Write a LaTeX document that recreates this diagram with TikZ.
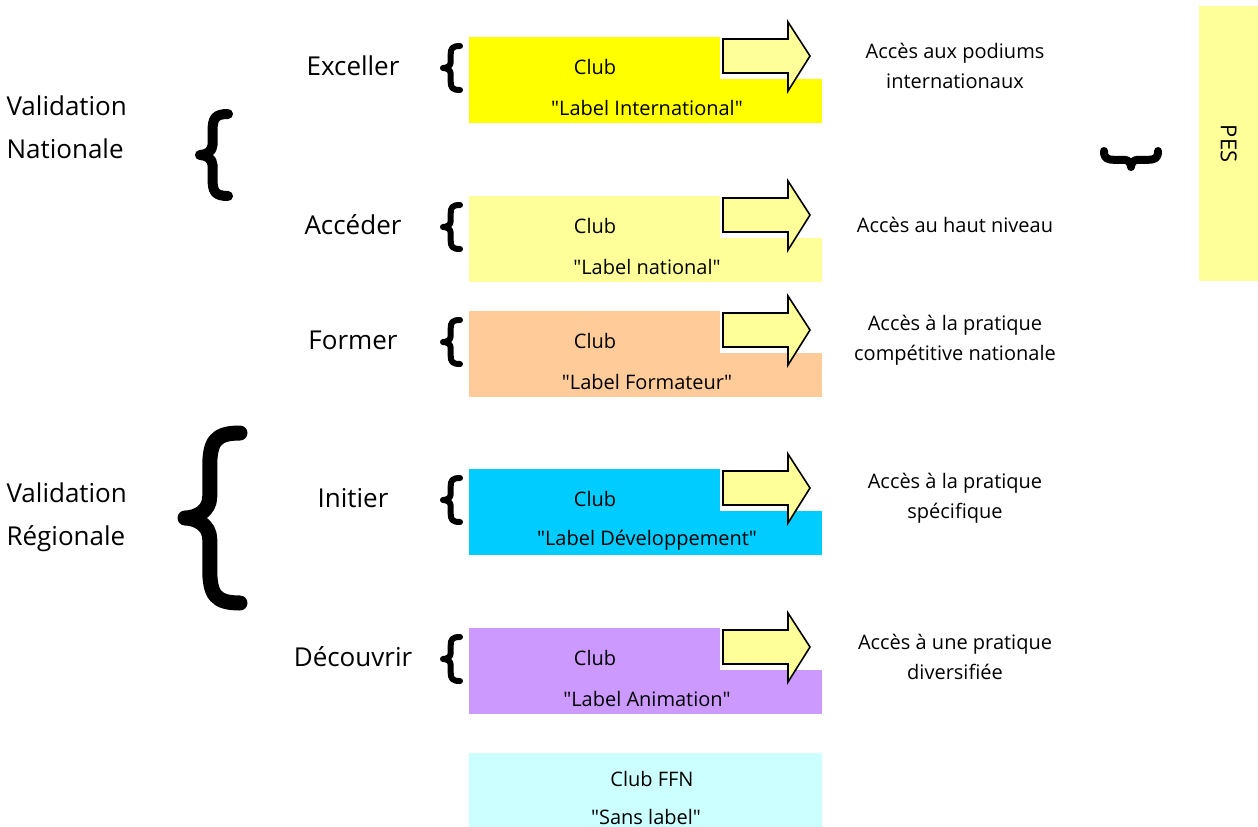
\documentclass[tikz,border=0pt]{standalone}
\usepackage{fontspec}
\setmainfont{Open Sans}
\usetikzlibrary{positioning}

\definecolor{intl}{HTML}{FFFF00}
\definecolor{natl}{HTML}{FFFF99}
\definecolor{form}{HTML}{FFCC99}
\definecolor{dev}{HTML}{00CCFF}
\definecolor{anim}{HTML}{CC99FF}
\definecolor{ffn}{HTML}{CCFFFF}

\tikzset{
  curly/.pic={
    \draw[line cap=round, line join=round]
      (1,-1) .. controls (0.55,-1) and (0.45,-0.9) .. (0.45,-0.6)
      -- (0.45,-0.25) .. controls (0.45,-0.08) and (0.2,0) .. (0,0)
      .. controls (0.2,0) and (0.45,0.08) .. (0.45,0.25)
      -- (0.45,0.6) .. controls (0.45,0.9) and (0.55,1) .. (1,1);
  },
  labelbox/.style={fill=#1, draw=none, minimum width=353, minimum height=86,
    anchor=north west, inner sep=0},
  bigtxt/.style={font=\fontsize{26}{43}\selectfont},
  midtxt/.style={font=\fontsize{20}{30}\selectfont},
  acctxt/.style={font=\fontsize{20}{30}\selectfont, align=center},
  arrowbody/.style={draw, fill=natl, line width=1.6pt, line join=miter},
}
\newcommand{\qt}[1]{\textquotedbl#1\textquotedbl}

\begin{document}
\begin{tikzpicture}[x=1pt,y=-1pt]
\useasboundingbox (0,0) rectangle (1258,827);

% left groups
\node[bigtxt, align=left, anchor=west] (valnat) at (3,127) {Validation\\Nationale};
\node[bigtxt, align=left, anchor=west] (valreg) at (3,517) {Validation\\Régionale};
\pic[line width=10pt, xscale=28, yscale=41] (bnat) at (200,155) {curly};
\pic[line width=15pt, xscale=55, yscale=85] (breg) at (185,518) {curly};

% levels
\foreach \t/\c/\n/\verb/\lab/\acc in {
  37/intl/exc/Exceller/Label International/{Accès aux podiums\\internationaux},
  196/natl/acd/Accéder/Label national/{Accès au haut niveau},
  311/form/frm/Former/Label Formateur/{Accès à la pratique\\compétitive nationale},
  469/dev/ini/Initier/Label Développement/{Accès à la pratique\\spécifique},
  628/anim/dec/Découvrir/Label Animation/{Accès à une pratique\\diversifiée}} {
  \node[labelbox=\c] (box\n) at (469,\t) {};
  \fill[white] (720,\t) rectangle (822,\t+42);
  \draw[arrowbody] (723,\t+2) -- (788,\t+2) -- (788,\t-15) -- (810,\t+19)
    -- (788,\t+54) -- (788,\t+36) -- (723,\t+36) -- cycle;
  \node[midtxt] (club\n) at (595,\t+30) {Club};
  \node[midtxt] (lab\n) at (647,\t+71) {\qt{\lab}};
  \node[bigtxt] (verb\n) at (353,\t+29) {\verb};
  \pic[line width=6pt, xscale=17, yscale=22] (sb\n) at (443,\t+31) {curly};
  \node[acctxt] (acc\n) at (955,\t+29) {\acc};
}

% club sans label
\node[labelbox=ffn] (boxffn) at (469,753) {};
\node[midtxt] (clubffn) at (652,779) {Club FFN};
\node[midtxt] (labffn) at (646,817) {\qt{Sans label}};

% PES
\node[fill=natl, minimum width=59, minimum height=275, anchor=north west, inner sep=0] (pes) at (1199,6) {};
\node[font=\fontsize{22}{26}\selectfont, rotate=-90] (pestxt) at (pes.center) {PES};
\pic[line width=8pt, rotate=90, xscale=16, yscale=27] (bpes) at (1131,167) {curly};
\end{tikzpicture}
\end{document}
